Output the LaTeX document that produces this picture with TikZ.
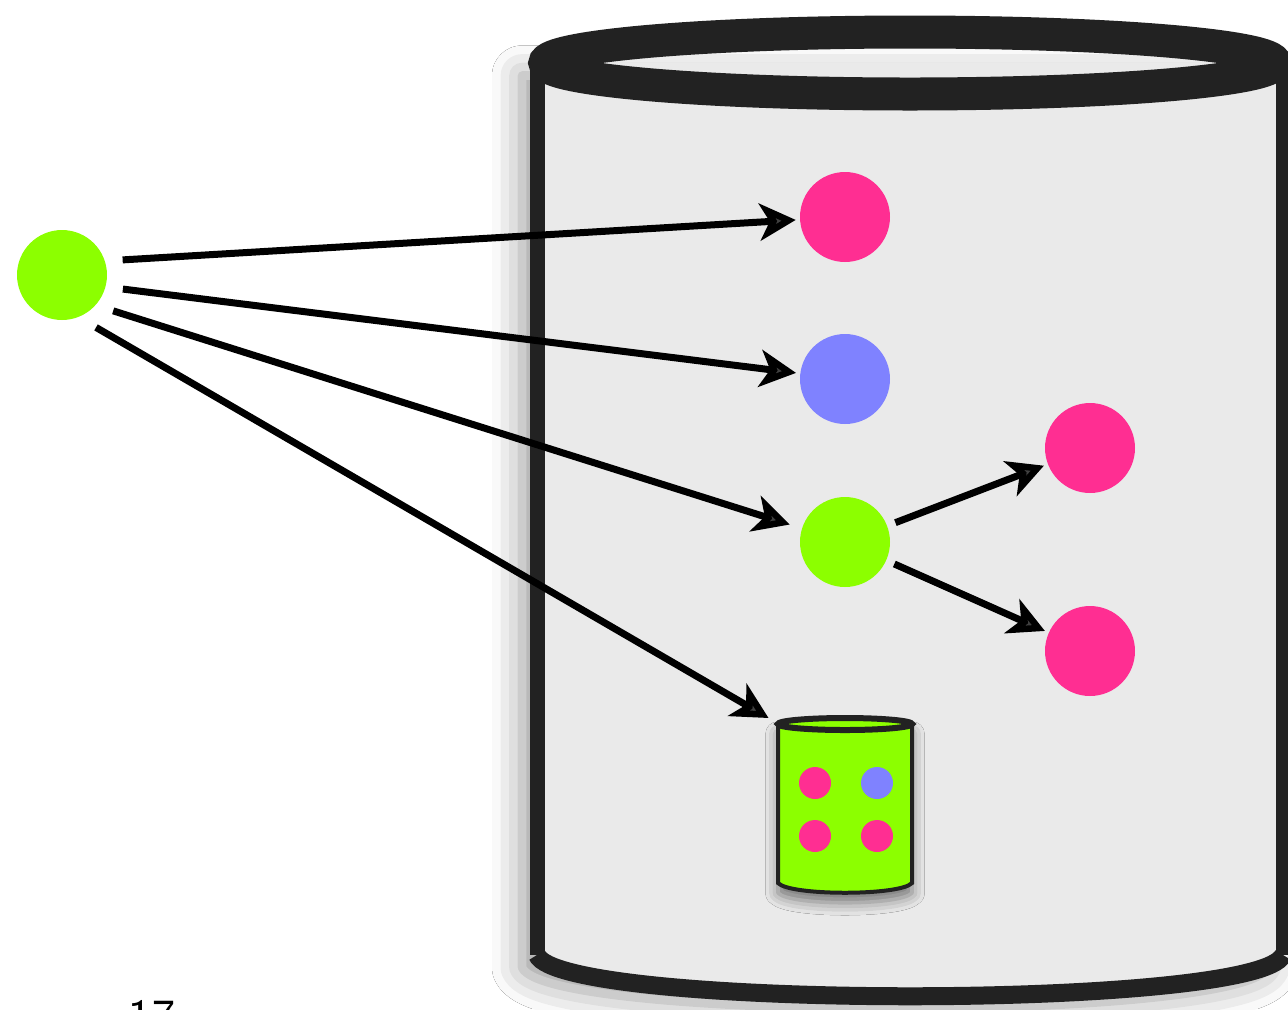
\documentclass[tikz,border=0pt]{standalone}
\usetikzlibrary{arrows.meta,shadows.blur}
\definecolor{pinkdot}{HTML}{FF2E92}
\definecolor{bluedot}{HTML}{7F82FF}
\definecolor{greendot}{HTML}{8CFF00}
\definecolor{canfill}{HTML}{EAEAEA}
\definecolor{canedge}{HTML}{222222}
\begin{document}
\begin{tikzpicture}[x=0.02cm,y=-0.02cm,
  dot/.style={circle,inner sep=0pt,minimum size=1.8cm},
  link/.style={line width=0.14cm,-{Stealth[length=0.72cm,width=0.74cm,inset=0.2cm]},shorten >=0.08cm},
  minidot/.style={circle,inner sep=0pt,minimum size=0.64cm}]
\useasboundingbox[fill=white] (0,0) rectangle (1288,1009);

% the big store
\fill[canfill,blur shadow={shadow xshift=-0.3cm,shadow yshift=-0.25cm,shadow blur radius=0.6cm,shadow opacity=40}]
  (537,63) -- (537,955) .. controls (560,1010) and (1260,1010) .. (1283,955) -- (1283,63) -- cycle;
\draw[canedge,line width=0.3cm] (537,63) -- (537,955);
\draw[canedge,line width=0.3cm] (1283,63) -- (1283,955);
\draw[canedge,line width=0.36cm] (537,955) .. controls (560,1010) and (1260,1010) .. (1283,955);
\draw[canedge,line width=0.66cm] (910,63) ellipse [x radius=365,y radius=31];

% the small store
\fill[greendot,blur shadow={shadow xshift=0cm,shadow yshift=-0.2cm,shadow blur radius=0.25cm,shadow opacity=50}]
  (778,724) -- (778,883) .. controls (790,896) and (900,896) .. (912,883) -- (912,724) -- cycle;
\draw[canedge,line width=0.08cm] (778,724) -- (778,883) .. controls (790,896) and (900,896) .. (912,883) -- (912,724);
\draw[canedge,fill=greendot,line width=0.12cm] (845,724) ellipse [x radius=67,y radius=6];
\node[minidot,fill=pinkdot] (m1) at (815,783) {};
\node[minidot,fill=bluedot] (m2) at (877,783) {};
\node[minidot,fill=pinkdot] (m3) at (815,836) {};
\node[minidot,fill=pinkdot] (m4) at (877,836) {};
\coordinate (mini) at (772,720);

% the items
\node[dot,fill=greendot,outer sep=0.35cm] (src) at (62,275) {};
\node[dot,fill=pinkdot] (a) at (845,217) {};
\node[dot,fill=bluedot] (b) at (845,379) {};
\node[dot,fill=greendot,outer sep=0.18cm] (c) at (845,542) {};
\node[dot,fill=pinkdot] (d) at (1090,448) {};
\node[dot,fill=pinkdot] (e) at (1090,651) {};

\draw[link] (src.14) -- (a);
\draw[link] (src.-13) -- (b);
\draw[link] (src.-35) -- (c);
\draw[link] (src.-57) -- (mini);
\draw[link] (c) -- (d);
\draw[link] (c) -- (e);

\node[anchor=north,font=\fontsize{28}{30}\selectfont\sffamily] (page) at (152,994) {17};
\end{tikzpicture}
\end{document}
